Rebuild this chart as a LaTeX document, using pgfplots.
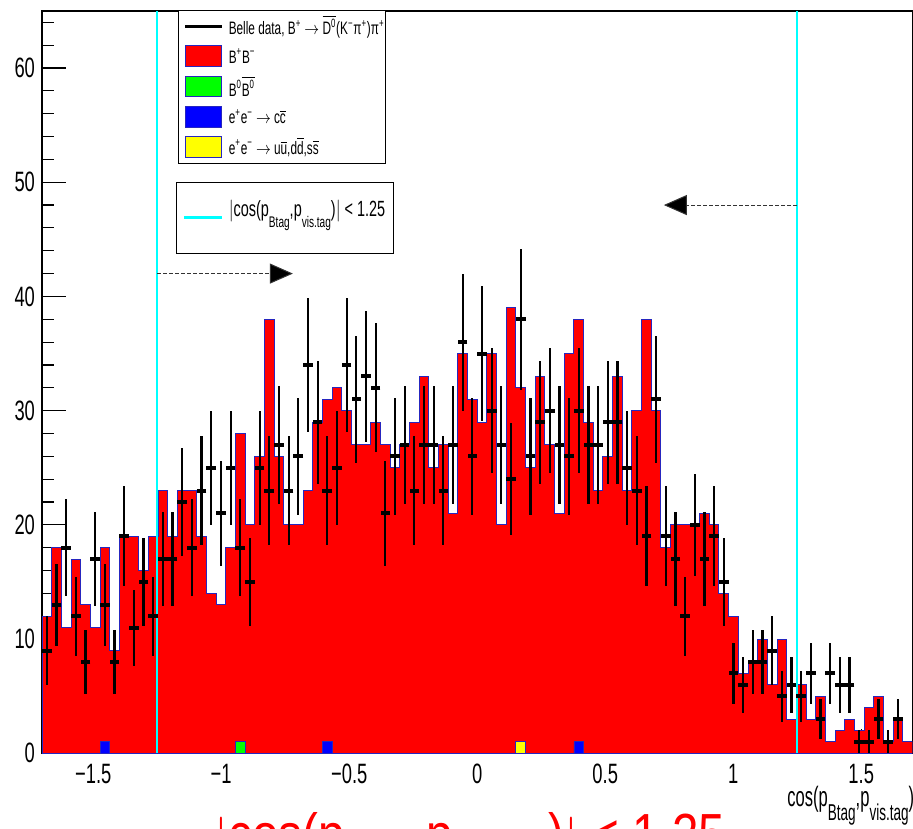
\documentclass[border=0pt]{standalone}
\usepackage{fontspec}
\setmainfont{Liberation Sans}[FakeStretch=0.82]
\usepackage{graphicx}
\usepackage{pgfplots}
\usepackage{pgfplotstable}
\pgfplotsset{compat=1.18}
\usetikzlibrary{arrows.meta}
\definecolor{rcyan}{rgb}{0,1,1}
\definecolor{rgreen}{rgb}{0,1,0}
\definecolor{ryellow}{rgb}{1,1,0}
\definecolor{rblue}{rgb}{0,0,1}
\definecolor{rred}{rgb}{1,0,0}
\definecolor{routline}{rgb}{0.15,0.15,0.75}
\newcommand\rsub[1]{\raisebox{-0.5em}{\scalebox{0.7}{#1}}}
\newcommand\rsubb[1]{\raisebox{-0.5em}{\scalebox{0.82}{#1}}}
\newcommand\sq[1]{\scalebox{0.8}[1]{#1}}

\pgfplotstableread{
x y
-1.7000 12
-1.6622 18
-1.6244 11
-1.5867 17
-1.5489 13
-1.5111 11
-1.4733 18
-1.4356 9
-1.3978 19
-1.3600 19
-1.3222 16
-1.2844 19
-1.2467 23
-1.2089 19
-1.1711 23
-1.1333 23
-1.0956 19
-1.0578 14
-1.0200 13
-0.9822 18
-0.9444 28
-0.9067 20
-0.8689 26
-0.8311 38
-0.7933 26
-0.7556 20
-0.7178 20
-0.6800 23
-0.6422 29
-0.6044 31
-0.5667 32
-0.5289 30
-0.4911 27
-0.4533 27
-0.4156 29
-0.3778 27
-0.3400 25
-0.3022 27
-0.2644 29
-0.2267 33
-0.1889 25
-0.1511 27
-0.1133 21
-0.0756 35
-0.0378 31
0.0000 29
0.0378 35
0.0756 20
0.1133 39
0.1511 32
0.1889 25
0.2267 33
0.2644 27
0.3022 21
0.3400 35
0.3778 38
0.4156 29
0.4533 23
0.4911 26
0.5289 33
0.5667 23
0.6044 30
0.6422 38
0.6800 30
0.7178 18
0.7556 20
0.7933 20
0.8311 20
0.8689 21
0.9067 20
0.9444 14
0.9822 12
1.0200 7
1.0578 8
1.0956 10
1.1333 6
1.1711 10
1.2089 3
1.2467 6
1.2844 3
1.3222 5
1.3600 1
1.3978 2
1.4356 3
1.4733 2
1.5111 4
1.5489 5
1.5867 1
1.6244 3
1.6622 1
1.7000 1
}\mc

\pgfplotstableread{
x n e
-1.6811 9 3
-1.6433 13 3.606
-1.6056 18 4.243
-1.5678 12 3.464
-1.5300 8 2.828
-1.4922 17 4.123
-1.4544 13 3.606
-1.4167 8 2.828
-1.3789 19 4.359
-1.3411 11 3.317
-1.3033 15 3.873
-1.2656 12 3.464
-1.2278 17 4.123
-1.1900 17 4.123
-1.1522 22 4.690
-1.1144 18 4.243
-1.0767 23 4.796
-1.0389 25 5
-1.0011 21 4.583
-0.9633 25 5
-0.9256 18 4.243
-0.8878 15 3.873
-0.8500 25 5
-0.8122 23 4.796
-0.7744 27 5.196
-0.7367 23 4.796
-0.6989 26 5.099
-0.6611 34 5.831
-0.6233 29 5.385
-0.5856 23 4.796
-0.5478 25 5
-0.5100 34 5.831
-0.4722 31 5.568
-0.4344 33 5.745
-0.3967 32 5.657
-0.3589 21 4.583
-0.3211 26 5.099
-0.2833 27 5.196
-0.2456 23 4.796
-0.2078 27 5.196
-0.1700 27 5.196
-0.1322 23 4.796
-0.0944 27 5.196
-0.0567 36 6
-0.0189 26 5.099
0.0189 35 5.916
0.0567 30 5.477
0.0944 27 5.196
0.1322 24 4.899
0.1700 38 6.164
0.2078 26 5.099
0.2456 29 5.385
0.2833 30 5.477
0.3211 27 5.196
0.3589 26 5.099
0.3967 30 5.477
0.4344 27 5.196
0.4722 27 5.196
0.5100 29 5.385
0.5478 29 5.385
0.5856 25 5
0.6233 23 4.796
0.6611 19 4.359
0.6989 31 5.568
0.7367 19 4.359
0.7744 17 4.123
0.8122 12 3.464
0.8500 20 4.472
0.8878 17 4.123
0.9256 19 4.359
0.9633 15 3.873
1.0011 7 2.646
1.0389 6 2.449
1.0767 8 2.828
1.1144 8 2.828
1.1522 9 3
1.1900 5 2.236
1.2278 6 2.449
1.2656 5 2.236
1.3033 7 2.646
1.3411 3 1.732
1.3789 7 2.646
1.4167 6 2.449
1.4544 6 2.449
1.4922 1 1
1.5300 1 1
1.5678 3 1.732
1.6056 1 1
1.6433 3 1.732
}\data

\begin{document}
\begin{tikzpicture}[x=1pt,y=1pt]
\useasboundingbox (0,0) rectangle (456.5,414);
\begin{axis}[
  at={(21pt,37.35pt)}, anchor=south west,
  scale only axis, width=435.2pt, height=371.2pt,
  xmin=-1.7, xmax=1.7, ymin=0, ymax=65,
  axis line style={line width=0.8pt},
  tick align=inside,
  xtick pos=bottom, ytick pos=left,
  xtick={-1.5,-1,-0.5,0,0.5,1,1.5},
  xticklabels={\sq{−1.5},\sq{−1},\sq{−0.5},\sq{0},\sq{0.5},\sq{1},\sq{1.5}},
  minor xtick={-1.6,-1.4,-1.3,-1.2,-1.1,-0.9,-0.8,-0.7,-0.6,-0.4,-0.3,-0.2,-0.1,0.1,0.2,0.3,0.4,0.6,0.7,0.8,0.9,1.1,1.2,1.3,1.4,1.6},
  ytick={0,10,20,30,40,50,60},
  yticklabels={\sq{0},\sq{10},\sq{20},\sq{30},\sq{40},\sq{50},\sq{60}},
  minor ytick={2,4,6,8,12,14,16,18,22,24,26,28,32,34,36,38,42,44,46,48,52,54,56,58,62,64},
  major tick length=12pt, minor tick length=6pt,
  every tick/.style={black, line width=0.6pt},
  tick label style={font=\fontsize{14}{16}\selectfont},
  xticklabel style={yshift=-2pt},
]
\addplot[const plot, fill=rred, draw=routline, line width=0.5pt] table[x=x,y=y] {\mc} \closedcycle;
\addplot[const plot, fill=rblue, draw=routline, line width=0.4pt] coordinates {(-1.4733,1) (-1.4356,1)} \closedcycle;
\addplot[const plot, fill=rgreen, draw=routline, line width=0.4pt] coordinates {(-0.9444,1) (-0.9067,1)} \closedcycle;
\addplot[const plot, fill=rblue, draw=routline, line width=0.4pt] coordinates {(-0.6044,1) (-0.5667,1)} \closedcycle;
\addplot[const plot, fill=ryellow, draw=routline, line width=0.4pt] coordinates {(0.1511,1) (0.1889,1)} \closedcycle;
\addplot[const plot, fill=rblue, draw=routline, line width=0.4pt] coordinates {(0.3778,1) (0.4156,1)} \closedcycle;
\addplot[rcyan, line width=1.2pt] coordinates {(-1.25,0) (-1.25,65)};
\addplot[rcyan, line width=1.2pt] coordinates {(1.25,0) (1.25,65)};
\addplot[black, only marks, mark=-, mark size=2.4pt, mark options={line width=2pt},
  error bars/.cd, y dir=both, y explicit, error mark=none,
  error bar style={line width=1.1pt, black}]
  table[x=x, y=n, y error=e] {\data};
\draw[black!80, line width=0.5pt, dash pattern=on 2pt off 1pt, -{Triangle[length=11.5pt,width=10pt,fill=black]}] (axis cs:-1.25,42) -- (axis cs:-0.72,42);
\draw[black!80, line width=0.5pt, dash pattern=on 2pt off 1pt, -{Triangle[length=11.5pt,width=10pt,fill=black]}] (axis cs:1.25,48) -- (axis cs:0.729,48);
\end{axis}
% legend 1
\draw[black, line width=0.5pt, fill=white] (89.2,332.4) rectangle (192.5,408.5);
\draw[black, line width=1.5pt] (92.5,400.65) -- (110.8,400.65);
\node[anchor=west, inner sep=0pt, font=\fontsize{9}{11}\selectfont] at (114.2,400.65) {\sq{Belle data, B\textsuperscript{+} $\rightarrow$ $\overline{\mbox{D\textsuperscript{0}}}$(K\textsuperscript{−}π\textsuperscript{+})π\textsuperscript{+}}};
\filldraw[fill=rred, draw=routline, line width=0.4pt] (92.5,380.8) rectangle (110.8,391.2);
\node[anchor=west, inner sep=0pt, font=\fontsize{9}{11}\selectfont] at (114.2,386) {\sq{B\textsuperscript{+}B\textsuperscript{−}}};
\filldraw[fill=rgreen, draw=routline, line width=0.4pt] (92.5,365.7) rectangle (110.8,376.0);
\node[anchor=west, inner sep=0pt, font=\fontsize{9}{11}\selectfont] at (114.2,370.85) {\sq{B\textsuperscript{0}$\overline{\mbox{B\textsuperscript{0}}}$}};
\filldraw[fill=rblue, draw=routline, line width=0.4pt] (92.5,350.5) rectangle (110.8,360.8);
\node[anchor=west, inner sep=0pt, font=\fontsize{9}{11}\selectfont] at (114.2,355.65) {\sq{e\textsuperscript{+}e\textsuperscript{−} $\rightarrow$ c$\overline{\mbox{c}}$}};
\filldraw[fill=ryellow, draw=routline, line width=0.4pt] (92.5,335.3) rectangle (110.8,345.7);
\node[anchor=west, inner sep=0pt, font=\fontsize{9}{11}\selectfont] at (114.2,340.5) {\sq{e\textsuperscript{+}e\textsuperscript{−} $\rightarrow$ u$\overline{\mbox{u}}$,d$\overline{\mbox{d}}$,s$\overline{\mbox{s}}$}};
% legend 2
\draw[black, line width=0.5pt, fill=white] (88,287.35) rectangle (196.7,322.85);
\draw[rcyan, line width=1.5pt] (92.2,305.2) -- (110.8,305.2);
\node[anchor=west, inner sep=0pt, font=\fontsize{11}{13}\selectfont] at (114.2,306.5) {\sq{$|$cos(p\rsub{Btag},p\rsub{vis.tag})$|$ < 1.25}};
% x label
\node[anchor=base west, inner sep=0pt, font=\fontsize{14}{16}\selectfont] at (393.5,10.6) {\scalebox{0.72}[1]{cos(p\rsubb{Btag},p\rsubb{vis.tag})}};
% red caption, cut at the bottom
\node[anchor=base west, inner sep=0pt, text=rred, font=\fontsize{29}{33}\selectfont] at (107,-13) {$|$cos(p\rsub{Btag},p\rsub{vis.tag})$|$ < 1.25};
\end{tikzpicture}
\end{document}
